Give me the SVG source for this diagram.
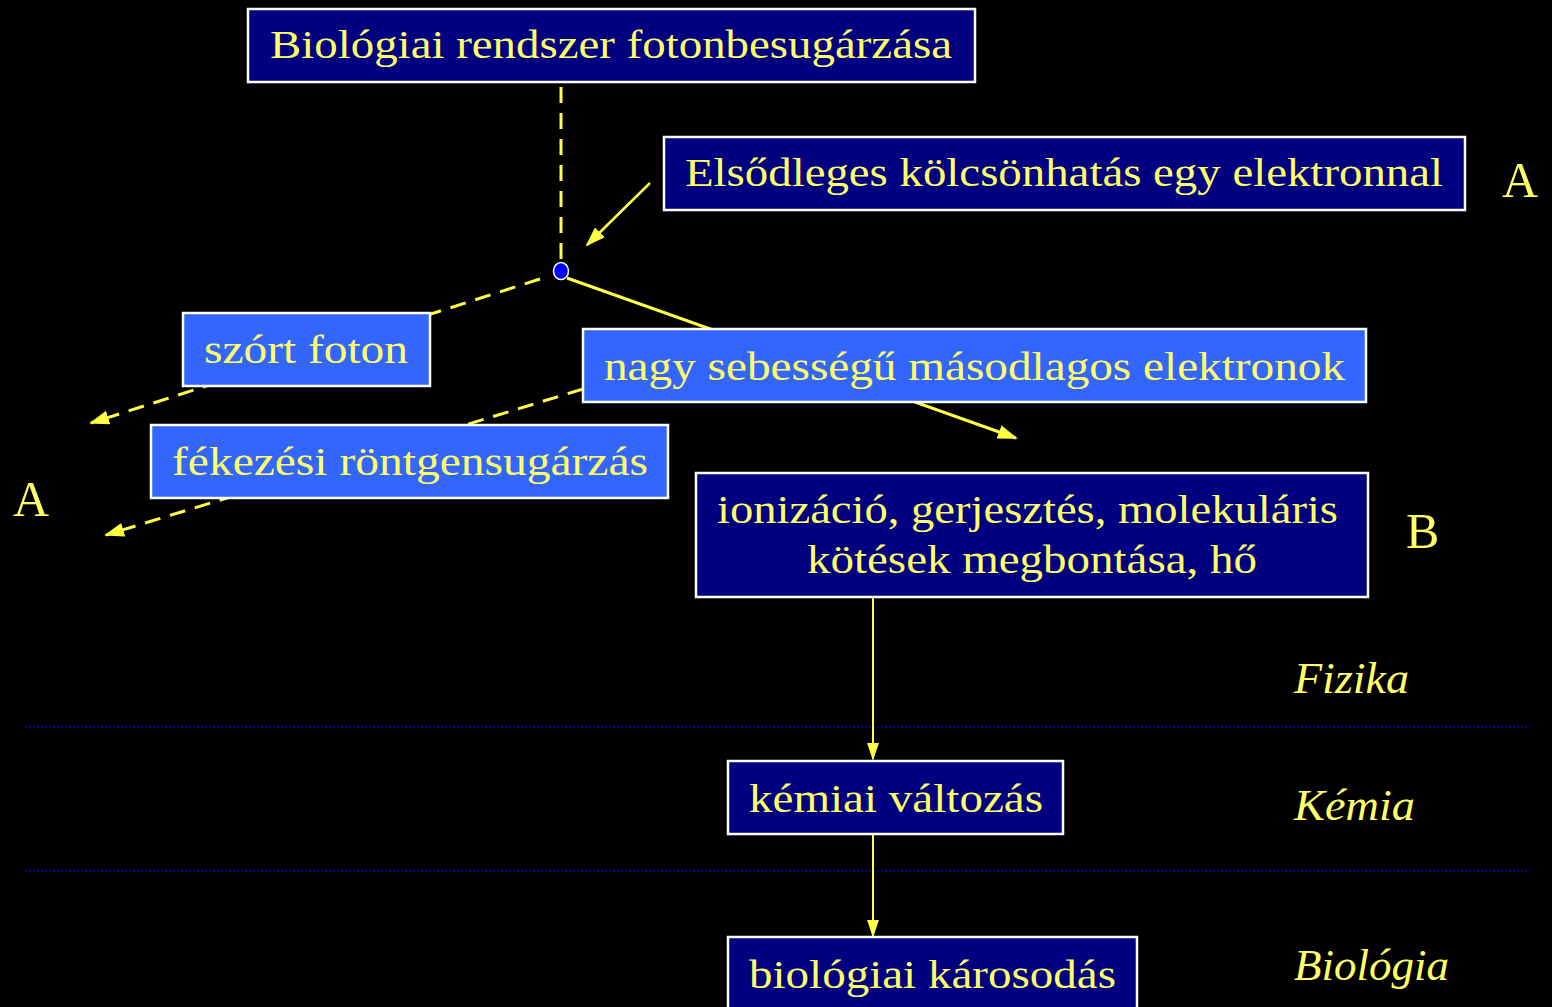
<svg xmlns="http://www.w3.org/2000/svg" width="1552" height="1007" viewBox="0 0 1552 1007">
<style>
.bg{fill:#000}
.navy{fill:#000080;stroke:#fff;stroke-width:2.5}
.lb{fill:#3366ff;stroke:#fff;stroke-width:2.5}
.t{font-family:"Liberation Serif","DejaVu Serif",serif;font-size:40px;fill:#ffff66}
.big{font-family:"Liberation Serif","DejaVu Serif",serif;font-size:50px;fill:#ffff66}
.it{font-family:"Liberation Serif","DejaVu Serif",serif;font-size:44px;font-style:italic;fill:#ffff66}
.sol{stroke:#ffff44;stroke-width:3;fill:none}
.thin{stroke:#ffff44;stroke-width:2;fill:none}
.dash{stroke:#ffff44;stroke-width:3;fill:none;stroke-dasharray:16 10}
.dot{stroke:#0000cc;stroke-width:1.5;stroke-dasharray:2 2;fill:none}
</style>
<defs>
<marker id="ah" viewBox="0 0 10 10" refX="9" refY="5" markerWidth="20" markerHeight="14" markerUnits="userSpaceOnUse" orient="auto" preserveAspectRatio="none">
<path d="M0,0 L10,5 L0,10 Z" fill="#ffff44"/>
</marker>
<marker id="ah2" viewBox="0 0 10 10" refX="9" refY="5" markerWidth="18" markerHeight="12" markerUnits="userSpaceOnUse" orient="auto" preserveAspectRatio="none">
<path d="M0,0 L10,5 L0,10 Z" fill="#ffff44"/>
</marker>
</defs>
<rect class="bg" x="0" y="0" width="1552" height="1007"/>
<g id="separators">
<line class="dot" x1="25" y1="727" x2="1528" y2="727"/>
<line class="dot" x1="25" y1="871" x2="1528" y2="871"/>
</g>
<g id="connectors">
<line class="dash" x1="561" y1="87" x2="561" y2="263"/>
<line class="sol" x1="650" y1="183" x2="587" y2="245" marker-end="url(#ah)" style="stroke-width:2.5"/>
<line class="sol" x1="567" y1="278" x2="1016" y2="438" marker-end="url(#ah)"/>
<line class="dash" x1="540" y1="279" x2="91" y2="423" marker-end="url(#ah)"/>
<line class="dash" x1="583" y1="389" x2="106" y2="535" marker-end="url(#ah)"/>
<line class="thin" x1="873" y1="598" x2="873" y2="759" marker-end="url(#ah2)"/>
<line class="thin" x1="873" y1="834" x2="873" y2="936" marker-end="url(#ah2)"/>
</g>
<g id="n1">
<rect class="navy" x="248" y="9" width="727" height="73"/>
<text class="t" x="270" y="58" textLength="682" lengthAdjust="spacingAndGlyphs">Biológiai rendszer fotonbesugárzása</text>
</g>
<g id="n2">
<rect class="navy" x="664" y="137" width="801" height="73"/>
<text class="t" x="685" y="186" textLength="758" lengthAdjust="spacingAndGlyphs">Elsődleges kölcsönhatás egy elektronnal</text>
</g>
<g id="labelA1"><text class="big" x="1502" y="197">A</text></g>
<g id="hit"><ellipse cx="561" cy="271" rx="7.5" ry="8.5" fill="#0000ff" stroke="#fff" stroke-width="1.5"/></g>
<g id="n3">
<rect class="lb" x="183" y="313" width="247" height="73"/>
<text class="t" x="204" y="363" textLength="204" lengthAdjust="spacingAndGlyphs">szórt foton</text>
</g>
<g id="n4">
<rect class="lb" x="583" y="329" width="783" height="73"/>
<text class="t" x="604" y="380" textLength="741" lengthAdjust="spacingAndGlyphs">nagy sebességű másodlagos elektronok</text>
</g>
<g id="n5">
<rect class="lb" x="151" y="425" width="517" height="73"/>
<text class="t" x="172" y="475" textLength="476" lengthAdjust="spacingAndGlyphs">fékezési röntgensugárzás</text>
</g>
<g id="labelA2"><text class="big" x="13" y="516">A</text></g>
<g id="n6">
<rect class="navy" x="696" y="473" width="672" height="124"/>
<text class="t" x="717" y="523" textLength="621" lengthAdjust="spacingAndGlyphs">ionizáció, gerjesztés, molekuláris</text>
<text class="t" x="807" y="573" textLength="450" lengthAdjust="spacingAndGlyphs">kötések megbontása, hő</text>
</g>
<g id="labelB"><text class="big" x="1406" y="548">B</text></g>
<g id="n7">
<rect class="navy" x="728" y="761" width="335" height="73"/>
<text class="t" x="749" y="812" textLength="294" lengthAdjust="spacingAndGlyphs">kémiai változás</text>
</g>
<g id="n8">
<rect class="navy" x="728" y="937" width="409" height="80"/>
<text class="t" x="749" y="988" textLength="367" lengthAdjust="spacingAndGlyphs">biológiai károsodás</text>
</g>
<g id="levels">
<text class="it" x="1294" y="693" textLength="115" lengthAdjust="spacingAndGlyphs">Fizika</text>
<text class="it" x="1294" y="820" textLength="121" lengthAdjust="spacingAndGlyphs">Kémia</text>
<text class="it" x="1294" y="980" textLength="155" lengthAdjust="spacingAndGlyphs">Biológia</text>
</g>
</svg>
